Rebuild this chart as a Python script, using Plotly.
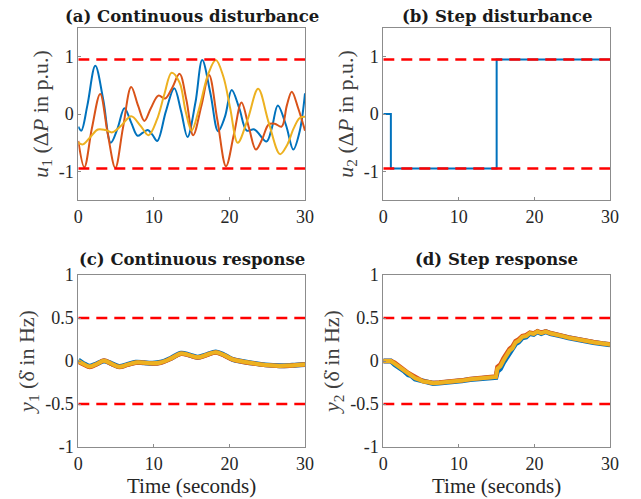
import plotly.graph_objects as go

# ---------------- data ----------------
# (a) continuous disturbance
t_a_blue = [0, 0.4, 1.2, 2.25, 3.3, 4.3, 5.2, 6.1, 7.0, 7.85, 8.5, 9.2, 9.8, 10.45, 11.6, 12.7, 13.6, 14.45, 15.5, 16.4, 17.5, 18.5, 19.4, 20.3, 21.3, 22.3, 23.3, 24.9, 25.6, 26.4, 27.5, 28.45, 29.3, 30]
v_a_blue = [-0.22, -0.29, 0.15, 0.84, 0.25, -0.50, -0.25, 0.10, -0.15, -0.38, -0.33, -0.28, -0.36, -0.47, 0.05, 0.45, 0.05, -0.40, 0.20, 0.94, 0.35, -0.30, -0.05, 0.42, 0.10, -0.29, -0.27, -0.48, -0.25, 0.15, -0.20, -0.62, -0.30, 0.36]

t_a_orange = [0, 0.8, 1.8, 2.9, 3.9, 4.9, 5.9, 7.0, 7.9, 8.75, 9.6, 10.6, 11.5, 12.4, 13.4, 14.3, 15.2, 16.3, 17.3, 18.4, 19.55, 20.6, 21.6, 22.6, 23.5, 24.3, 25.2, 26.0, 26.9, 27.6, 28.25, 29.1, 30]
v_a_orange = [-0.47, -0.93, -0.25, 0.35, -0.35, -0.94, -0.25, 0.47, 0.15, -0.12, 0.10, 0.32, 0.27, 0.45, 0.70, 0.25, -0.37, 0.15, 0.68, -0.10, -0.91, -0.35, 0.20, -0.25, -0.62, -0.45, -0.18, -0.17, -0.22, 0.15, 0.39, 0.10, -0.29]

t_a_yellow = [0, 0.6, 1.6, 2.6, 3.6, 4.5, 5.7, 7.0, 8.2, 9.3, 10.4, 11.4, 12.35, 13.4, 14.2, 15.0, 16.0, 17.2, 18.2, 19.2, 20.1, 21.1, 22.4, 23.8, 25.2, 26.7, 27.6, 28.5, 29.3, 30]
v_a_yellow = [-0.50, -0.53, -0.40, -0.27, -0.28, -0.32, -0.20, -0.04, -0.20, -0.37, -0.10, 0.35, 0.72, 0.55, 0.05, -0.29, 0.10, 0.70, 0.94, 0.65, 0.10, -0.50, -0.10, 0.44, -0.15, -0.70, -0.55, -0.25, -0.07, -0.05]

# (b) step disturbance
t_b = [0, 1, 15, 30]
v_b = [0, -0.95, 0.95, 0.95]

# (c) continuous response
t_c = [0, 0.7, 1.5, 2.5, 3.4, 4.4, 5.4, 6.5, 7.6, 8.7, 9.8, 10.9, 12.2, 13.6, 14.7, 15.8, 17.0, 18.2, 19.3, 20.4, 21.7, 23.1, 24.8, 26.6, 28.3, 30]
v_c_blue = [0.01, -0.03, -0.06, -0.03, 0.00, -0.03, -0.065, -0.04, -0.015, -0.02, -0.025, -0.015, 0.03, 0.09, 0.07, 0.045, 0.075, 0.105, 0.07, 0.02, -0.005, -0.025, -0.045, -0.055, -0.05, -0.04]
v_c_orange = [-0.01, -0.04, -0.07, -0.035, 0.005, -0.035, -0.07, -0.045, -0.02, -0.02, -0.03, -0.02, 0.025, 0.085, 0.065, 0.04, 0.07, 0.10, 0.065, 0.018, -0.008, -0.028, -0.048, -0.058, -0.052, -0.042]
v_c_yellow = [0.0, -0.035, -0.065, -0.032, 0.002, -0.032, -0.067, -0.042, -0.017, -0.02, -0.027, -0.017, 0.027, 0.088, 0.068, 0.043, 0.073, 0.103, 0.068, 0.02, -0.006, -0.027, -0.047, -0.057, -0.051, -0.041]

# (d) step response
t_d = [0, 1.0, 1.5, 1.9, 2.4, 2.8, 3.3, 3.7, 4.2, 4.7, 5.3, 5.9, 6.6, 7.4, 8.3, 9.3, 10.4, 11.5, 12.6, 13.7, 14.9, 15.1, 15.5, 15.9, 16.3, 16.7, 17.1, 17.5, 17.9, 18.4, 18.9, 19.4, 19.9, 20.4, 20.9, 21.5, 22.1, 22.8, 23.6, 24.5, 25.5, 26.6, 27.8, 29.0, 30]
v_d_blue = [0, 0, -0.04, -0.06, -0.10, -0.12, -0.16, -0.17, -0.21, -0.22, -0.24, -0.245, -0.26, -0.255, -0.25, -0.24, -0.23, -0.215, -0.205, -0.195, -0.19, -0.12, -0.09, -0.02, 0.03, 0.10, 0.13, 0.20, 0.22, 0.27, 0.28, 0.32, 0.31, 0.34, 0.32, 0.34, 0.32, 0.31, 0.29, 0.27, 0.25, 0.235, 0.215, 0.20, 0.19]
v_d_orange = [0, 0, -0.02, -0.05, -0.08, -0.11, -0.14, -0.16, -0.19, -0.21, -0.235, -0.245, -0.255, -0.25, -0.245, -0.235, -0.225, -0.21, -0.2, -0.19, -0.18, -0.07, -0.04, 0.03, 0.09, 0.14, 0.17, 0.23, 0.25, 0.29, 0.30, 0.33, 0.32, 0.345, 0.33, 0.345, 0.325, 0.315, 0.295, 0.275, 0.255, 0.24, 0.22, 0.205, 0.195]
v_d_yellow = [0, 0, -0.03, -0.055, -0.09, -0.115, -0.15, -0.165, -0.20, -0.215, -0.238, -0.245, -0.258, -0.252, -0.248, -0.238, -0.228, -0.212, -0.202, -0.192, -0.185, -0.09, -0.06, 0.005, 0.06, 0.12, 0.15, 0.215, 0.235, 0.28, 0.29, 0.325, 0.315, 0.342, 0.325, 0.342, 0.322, 0.312, 0.292, 0.272, 0.252, 0.238, 0.218, 0.202, 0.192]

# limits (red dashed)
lim_a = 0.95
lim_c = 0.5

titles = ["(a) Continuous disturbance", "(b) Step disturbance", "(c) Continuous response", "(d) Step response"]
ylabels = ["<i>u</i><sub>1</sub> (Δ<i>P</i> in p.u.)", "<i>u</i><sub>2</sub> (Δ<i>P</i> in p.u.)",
           "<i>y</i><sub>1</sub> (δ\u0307 in Hz)", "<i>y</i><sub>2</sub> (δ\u0307 in Hz)"]
xlabel = "Time (seconds)"
x_ticks = [0, 10, 20, 30]
y_ticks_top = [-1, 0, 1]
y_ticks_bot = [-1, -0.5, 0, 0.5, 1]

BLUE, ORANGE, YELLOW, RED = "#0072BD", "#D95319", "#EDB120", "#FF0000"
FONT = "'Liberation Serif', 'Times New Roman', serif"
TFONT = "'DejaVu Serif', serif"
TXT = "#262626"
AX = "#8c8c8c"

# page body has an 8px margin: build the figure so it lands at the reference pixels
OFF = 8
W, H = 641 - OFF, 499 - OFF

def fx(px):
    return (px - OFF) / W

def fy(py):
    return 1 - (py - OFF) / H

xd = [[fx(78.3), fx(305)], [fx(383.3), fx(610)]]
yd = [[fy(200), fy(28)], [fy(447), fy(275)]]

fig = go.Figure()

def add(idx, x, y, color, width, shape="spline"):
    ax = "" if idx == 0 else str(idx + 1)
    fig.add_trace(go.Scatter(x=x, y=y, mode="lines", xaxis="x" + ax, yaxis="y" + ax,
                             line=dict(color=color, width=width, shape=shape, smoothing=1.0),
                             showlegend=False, hoverinfo="skip"))

def limits(idx, lim):
    for s in (1, -1):
        add(idx, [0, 30], [s * lim, s * lim], RED, 2.5, "linear")
        fig.data[-1].line.dash = "11px,7px"

# (a)
add(0, t_a_blue, v_a_blue, BLUE, 2)
add(0, t_a_orange, v_a_orange, ORANGE, 2)
add(0, t_a_yellow, v_a_yellow, YELLOW, 2)
limits(0, lim_a)
# (b)
add(1, t_b, v_b, BLUE, 2, "hv")
limits(1, lim_a)
# (c)
limits(2, lim_c)
add(2, t_c, v_c_blue, BLUE, 5)
add(2, t_c, v_c_orange, ORANGE, 4.5)
add(2, t_c, v_c_yellow, YELLOW, 4)
# (d)
limits(3, lim_c)
add(3, t_d, v_d_blue, BLUE, 5, "linear")
add(3, t_d, v_d_orange, ORANGE, 4.5, "linear")
add(3, t_d, v_d_yellow, YELLOW, 4, "linear")

layout = dict(width=W, height=H, margin=dict(l=0, r=0, t=0, b=0, autoexpand=False),
              paper_bgcolor="white", plot_bgcolor="white",
              font=dict(family=FONT, color=TXT, size=15))
annotations = []
for i in range(4):
    r, c = divmod(i, 2)
    ax = "" if i == 0 else str(i + 1)
    top = r == 0
    layout["xaxis" + ax] = dict(domain=xd[c], anchor="y" + ax, range=[0, 30], tickvals=x_ticks,
                                automargin=False,
                                showgrid=False, zeroline=False, showline=True, mirror=True,
                                linecolor=AX, linewidth=1, ticks="inside", ticklen=3, tickcolor=AX,
                                tickfont=dict(size=18, color=TXT, family=FONT),
                                title=dict(text=None if top else xlabel,
                                           font=dict(size=21, color=TXT, family=FONT), standoff=0))
    layout["yaxis" + ax] = dict(domain=yd[r], anchor="x" + ax,
                                automargin=False,
                                range=[-1.5, 1.5] if top else [-1, 1],
                                tickvals=y_ticks_top if top else y_ticks_bot,
                                ticktext=(["-1", "0", "1"] if top else ["-1", "-0.5", "0", "0.5", "1"]),
                                showgrid=False, zeroline=False, showline=True, mirror=True,
                                linecolor=AX, linewidth=1, ticks="inside", ticklen=3, tickcolor=AX,
                                tickfont=dict(size=18, color=TXT, family=FONT),
                                title=dict(text=ylabels[i], font=dict(size=22, color="#404040", family=FONT),
                                           standoff=4))
    annotations.append(dict(text="<b>" + titles[i] + "</b>", x=(xd[c][0] + xd[c][1]) / 2,
                            y=fy(16 if top else 259), xref="paper", yref="paper",
                            xanchor="center", yanchor="middle", showarrow=False,
                            borderpad=0,
                            font=dict(size=16.5, color="#1a1a1a", family=TFONT)))
layout["annotations"] = annotations
fig.update_layout(**layout)
fig.write_html("out.html")
